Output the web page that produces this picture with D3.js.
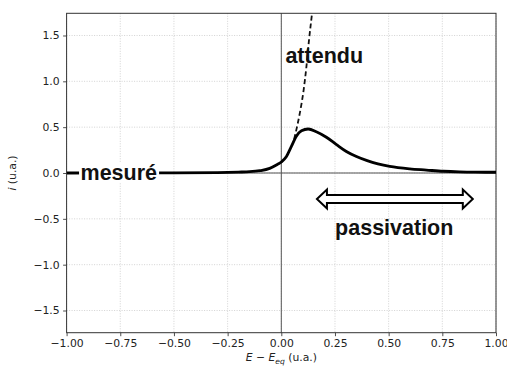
<!DOCTYPE html>
<html><head><meta charset="utf-8">
<script src="https://cdn.jsdelivr.net/npm/d3@7"></script>
<style>body{margin:0;background:#fff}svg{display:block}</style>
</head><body>
<svg id="c" width="507" height="370"></svg>
<script>
// Data
const mesureE = [-1.0, -0.5, -0.3, -0.2, -0.147, -0.1, -0.054, -0.023, 0.0, 0.024, 0.047, 0.07, 0.094, 0.125, 0.163, 0.21, 0.257, 0.303, 0.35, 0.40, 0.45, 0.505, 0.598, 0.676, 0.754, 0.83, 0.9, 1.0];
const mesureI = [0.0, 0.002, 0.005, 0.01, 0.014, 0.025, 0.05, 0.087, 0.12, 0.18, 0.29, 0.40, 0.46, 0.48, 0.45, 0.39, 0.31, 0.235, 0.18, 0.135, 0.10, 0.072, 0.045, 0.032, 0.019, 0.012, 0.009, 0.008];
const attenduE = [0.06, 0.07, 0.086, 0.104, 0.117, 0.129, 0.143, 0.15];
const attenduI = [0.37, 0.47, 0.65, 0.905, 1.16, 1.45, 1.74, 1.9];
const xTicks = [-1.0, -0.75, -0.5, -0.25, 0.0, 0.25, 0.5, 0.75, 1.0];
const yTicks = [-1.5, -1.0, -0.5, 0.0, 0.5, 1.0, 1.5];
const xDomain = [-1, 1];
const yDomain = [-1.742, 1.742];
const labelMesure = {text: "mesuré", e: -0.935, i: 0};
const labelAttendu = {text: "attendu", e: 0.2, i: 1.196};
const labelPassiv = {text: "passivation", e: 0.526, i: -0.676};
const arrowPassiv = {e0: 0.166, e1: 0.892, i: -0.284};

const svg = d3.select("#c");
const L = 66.6, R = 496, T = 13.3, B = 332.7;
const x = d3.scaleLinear().domain(xDomain).range([L, R]);
const y = d3.scaleLinear().domain(yDomain).range([B, T]);
const fmtX = d => d3.format(".2f")(d).replace("-", "\u2212");
const fmtY = d => d3.format(".1f")(d).replace("-", "\u2212");

// grid
const g = svg.append("g");
g.selectAll(".gx").data(xTicks).join("line")
  .attr("x1", d => x(d)).attr("x2", d => x(d)).attr("y1", T).attr("y2", B)
  .attr("stroke", "#c8c8c8").attr("stroke-width", 0.8).attr("stroke-dasharray", "1,1.5");
g.selectAll(".gy").data(yTicks).join("line")
  .attr("y1", d => y(d)).attr("y2", d => y(d)).attr("x1", L).attr("x2", R)
  .attr("stroke", "#c8c8c8").attr("stroke-width", 0.8).attr("stroke-dasharray", "1,1.5");

// zero axes lines
svg.append("line").attr("x1", x(0)).attr("x2", x(0)).attr("y1", T).attr("y2", B)
  .attr("stroke", "#555").attr("stroke-width", 1);
svg.append("line").attr("y1", y(0)).attr("y2", y(0)).attr("x1", L).attr("x2", R)
  .attr("stroke", "#555").attr("stroke-width", 1);

// axes
const xAxis = svg.append("g").attr("transform", `translate(0,${B})`)
  .call(d3.axisBottom(x).tickValues(xTicks).tickFormat(fmtX).tickSize(3.5).tickPadding(3.5));
const yAxis = svg.append("g").attr("transform", `translate(${L},0)`)
  .call(d3.axisLeft(y).tickValues(yTicks).tickFormat(fmtY).tickSize(3.5).tickPadding(3.5));
[xAxis, yAxis].forEach(a => {
  a.select(".domain").remove();
  a.selectAll("text").attr("font-family", "DejaVu Sans").attr("font-size", 10.8).attr("fill", "#222");
  a.selectAll("line").attr("stroke", "#222").attr("stroke-width", 0.8);
});
// frame
svg.append("rect").attr("x", L).attr("y", T).attr("width", R - L).attr("height", B - T)
  .attr("fill", "none").attr("stroke", "#333").attr("stroke-width", 1);

// clip
svg.append("clipPath").attr("id", "clip").append("rect")
  .attr("x", L).attr("y", T).attr("width", R - L).attr("height", B - T);

const line = d3.line().x(d => x(d[0])).y(d => y(d[1])).curve(d3.curveMonotoneX);
svg.append("path").attr("clip-path", "url(#clip)")
  .attr("d", line(attenduE.map((e, k) => [e, attenduI[k]])))
  .attr("fill", "none").attr("stroke", "#111").attr("stroke-width", 1.8).attr("stroke-dasharray", "5,3");
svg.append("path").attr("clip-path", "url(#clip)")
  .attr("d", line(mesureE.map((e, k) => [e, mesureI[k]])))
  .attr("fill", "none").attr("stroke", "#000").attr("stroke-width", 2.8).attr("stroke-linejoin", "round");

// labels
const bold = s => s.attr("font-family", "Liberation Sans, Arial, sans-serif").attr("font-weight", "bold")
  .attr("font-size", 21.5).attr("fill", "#111");
const tm = svg.append("text").attr("x", x(labelMesure.e)).attr("y", y(labelMesure.i) + 6.5)
  .text(labelMesure.text).call(bold);
const bb = tm.node().getBBox();
svg.insert("rect", () => tm.node()).attr("x", bb.x - 1.5).attr("y", bb.y + 2).attr("width", bb.width + 3.5)
  .attr("height", bb.height - 4).attr("fill", "#fff");
svg.append("text").attr("x", x(labelAttendu.e)).attr("y", y(labelAttendu.i)).attr("text-anchor", "middle")
  .text(labelAttendu.text).call(bold);
svg.append("text").attr("x", x(labelPassiv.e)).attr("y", y(labelPassiv.i)).attr("text-anchor", "middle")
  .text(labelPassiv.text).call(bold);

// double arrow
{
  const x0 = x(arrowPassiv.e0), x1 = x(arrowPassiv.e1), yc = y(arrowPassiv.i);
  const sh = 4, hh = 9.5, hl = 10;
  const pts = [[x0, yc], [x0 + hl, yc - hh], [x0 + hl, yc - sh], [x1 - hl, yc - sh], [x1 - hl, yc - hh], [x1, yc],
               [x1 - hl, yc + hh], [x1 - hl, yc + sh], [x0 + hl, yc + sh], [x0 + hl, yc + hh]];
  svg.append("path").attr("d", "M" + pts.map(p => p.join(",")).join("L") + "Z")
    .attr("fill", "#fff").attr("stroke", "#000").attr("stroke-width", 2).attr("stroke-linejoin", "miter");
}

// axis titles
const xl = svg.append("text").attr("x", (L + R) / 2).attr("y", 361).attr("text-anchor", "middle")
  .attr("font-family", "DejaVu Sans").attr("font-size", 10.8).attr("fill", "#222");
xl.append("tspan").attr("font-style", "italic").text("E");
xl.append("tspan").text(" \u2212 ");
xl.append("tspan").attr("font-style", "italic").text("E");
xl.append("tspan").attr("font-style", "italic").attr("font-size", 7.6).attr("dy", 2.5).text("eq");
xl.append("tspan").attr("dy", -2.5).text(" (u.a.)");

const yl = svg.append("text").attr("transform", `translate(16,${(T + B) / 2}) rotate(-90)`)
  .attr("text-anchor", "middle").attr("font-family", "DejaVu Sans").attr("font-size", 10.8).attr("fill", "#222");
yl.append("tspan").attr("font-style", "italic").text("i");
yl.append("tspan").text(" (u.a.)");
</script>
</body></html>
